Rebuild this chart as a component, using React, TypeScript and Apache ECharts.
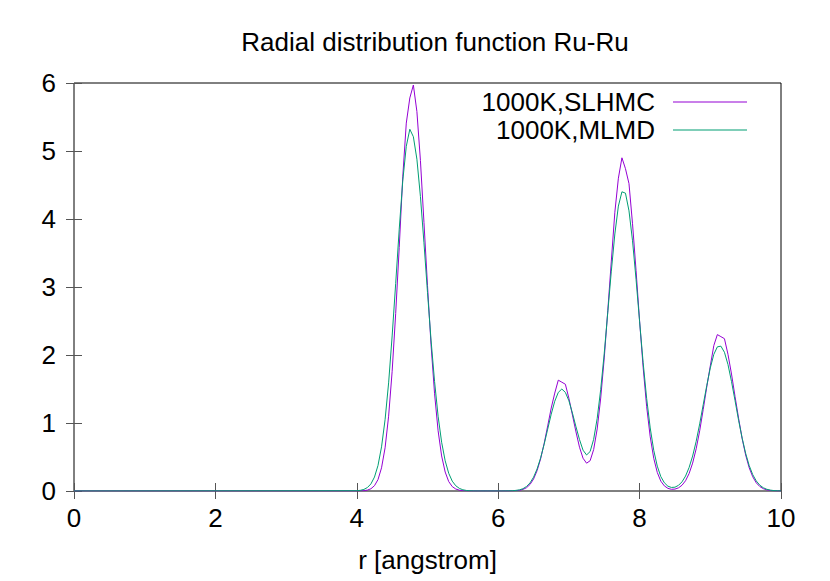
import React, { useEffect, useRef } from "react";
import * as echarts from "echarts";

const titleText = "Radial distribution function Ru-Ru";
const xAxisName = "r [angstrom]";
const seriesNames = ["1000K,SLHMC", "1000K,MLMD"];
const seriesColors = ["#9400d3", "#009e73"];

const rValues = [
  0,
  4.0, 4.05, 4.1, 4.15, 4.2, 4.25, 4.3, 4.35, 4.4, 4.45,
  4.5, 4.55, 4.6, 4.65, 4.7, 4.75, 4.8, 4.85, 4.9, 4.95,
  5.0, 5.05, 5.1, 5.15, 5.2, 5.25, 5.3, 5.35, 5.4, 5.45,
  5.5, 5.55, 5.6, 5.65, 5.7, 5.75, 5.8, 5.85, 5.9, 5.95,
  6.0, 6.05, 6.1, 6.15, 6.2, 6.25, 6.3, 6.35, 6.4, 6.45,
  6.5, 6.55, 6.6, 6.65, 6.7, 6.75, 6.8, 6.85, 6.9, 6.95,
  7.0, 7.05, 7.1, 7.15, 7.2, 7.25, 7.3, 7.35, 7.4, 7.45,
  7.5, 7.55, 7.6, 7.65, 7.7, 7.75, 7.8, 7.85, 7.9, 7.95,
  8.0, 8.05, 8.1, 8.15, 8.2, 8.25, 8.3, 8.35, 8.4, 8.45,
  8.5, 8.55, 8.6, 8.65, 8.7, 8.75, 8.8, 8.85, 8.9, 8.95,
  9.0, 9.05, 9.1, 9.15, 9.2, 9.25, 9.3, 9.35, 9.4, 9.45,
  9.5, 9.55, 9.6, 9.65, 9.7, 9.75, 9.8, 9.85, 9.9, 9.95,
  10.0,
];

const slhmc = [
  0,
  0, 0.002, 0.005, 0.013, 0.033, 0.078, 0.168, 0.341, 0.635, 1.1,
  1.76, 2.61, 3.58, 4.62, 5.41, 5.78, 5.97, 5.58, 4.86, 3.95,
  3.02, 2.15, 1.43, 0.886, 0.515, 0.279, 0.139, 0.065, 0.029, 0.012,
  0.005, 0.002, 0.001, 0, 0, 0, 0, 0, 0, 0,
  0, 0, 0, 0.001, 0.002, 0.005, 0.01, 0.023, 0.048, 0.096,
  0.176, 0.299, 0.473, 0.699, 0.957, 1.22, 1.44, 1.63, 1.6, 1.57,
  1.363, 1.117, 0.869, 0.644, 0.482, 0.409, 0.445, 0.609, 0.912, 1.367,
  1.957, 2.653, 3.381, 4.1, 4.6, 4.9, 4.74, 4.52, 3.93, 3.24,
  2.5, 1.82, 1.24, 0.797, 0.481, 0.273, 0.145, 0.075, 0.039, 0.025,
  0.028, 0.046, 0.085, 0.151, 0.256, 0.41, 0.62, 0.886, 1.2, 1.53,
  1.84, 2.14, 2.3, 2.27, 2.24, 2.01, 1.72, 1.39, 1.07, 0.773,
  0.529, 0.342, 0.209, 0.12, 0.066, 0.034, 0.016, 0.008, 0.003, 0.001,
  0,
];

const mlmd = [
  0,
  0.004, 0.01, 0.023, 0.051, 0.105, 0.205, 0.376, 0.649, 1.05, 1.59,
  2.28, 3.05, 3.85, 4.56, 5.07, 5.32, 5.21, 4.88, 4.33, 3.65,
  2.92, 2.22, 1.61, 1.1, 0.717, 0.444, 0.261, 0.145, 0.077, 0.039,
  0.018, 0.008, 0.003, 0.001, 0, 0, 0, 0, 0, 0,
  0, 0, 0.001, 0.002, 0.004, 0.009, 0.017, 0.034, 0.066, 0.119,
  0.203, 0.324, 0.487, 0.687, 0.91, 1.13, 1.32, 1.45, 1.5, 1.45,
  1.327, 1.146, 0.944, 0.756, 0.6, 0.53, 0.58, 0.76, 1.066, 1.494,
  2.027, 2.628, 3.233, 3.78, 4.19, 4.4, 4.38, 4.12, 3.68, 3.11,
  2.49, 1.89, 1.36, 0.927, 0.598, 0.366, 0.212, 0.121, 0.071, 0.052,
  0.056, 0.083, 0.135, 0.22, 0.345, 0.514, 0.73, 0.987, 1.27, 1.55,
  1.81, 2.01, 2.12, 2.13, 2.04, 1.86, 1.61, 1.33, 1.04, 0.779,
  0.554, 0.375, 0.241, 0.148, 0.086, 0.048, 0.025, 0.013, 0.006, 0.003,
  0.001,
];

const FONT = "'Liberation Sans', Arial, Helvetica, sans-serif";
const FS = 26;

export default function App() {
  const ref = useRef<HTMLDivElement>(null);

  useEffect(() => {
    if (!ref.current) return;
    const chart = echarts.init(ref.current, undefined, { renderer: "svg" });
    const tickStyle = { inside: true, length: 8, lineStyle: { color: "#555", width: 1 } };
    const legendBase = {
      orient: "vertical" as const,
      align: "right" as const,
      right: 83,
      padding: 0,
      icon: "rect",
      itemWidth: 74,
      itemHeight: 1,
      selectedMode: false,
      textStyle: { fontSize: FS, fontFamily: FONT, color: "#000", padding: [0, 13, 0, 0] },
    };
    chart.setOption({
      animation: false,
      backgroundColor: "#fff",
      title: {
        text: titleText,
        left: 430,
        top: 24,
        textAlign: "center",
        textStyle: { fontSize: FS, fontWeight: "normal", fontFamily: FONT, color: "#000" },
      },
      legend: [
        { ...legendBase, top: 89, data: [seriesNames[0]] },
        { ...legendBase, top: 117, data: [seriesNames[1]] },
      ],
      grid: {
        left: 74,
        right: 49,
        top: 83,
        bottom: 90,
        show: true,
        borderColor: "#000",
        borderWidth: 1,
        backgroundColor: "transparent",
      },
      xAxis: [
        {
          type: "value",
          min: 0,
          max: 10,
          interval: 2,
          position: "bottom",
          axisLine: { show: false },
          axisTick: tickStyle,
          splitLine: { show: false },
          axisLabel: { fontSize: FS, fontFamily: FONT, color: "#000", margin: 14 },
          name: xAxisName,
          nameLocation: "middle",
          nameGap: 56,
          nameTextStyle: { fontSize: FS, fontFamily: FONT, color: "#000" },
        },
        {
          type: "value",
          min: 0,
          max: 10,
          interval: 2,
          position: "top",
          axisLine: { show: false },
          axisTick: tickStyle,
          splitLine: { show: false },
          axisLabel: { show: false },
        },
      ],
      yAxis: [
        {
          type: "value",
          min: 0,
          max: 6,
          interval: 1,
          position: "left",
          axisLine: { show: false },
          axisTick: tickStyle,
          splitLine: { show: false },
          axisLabel: { fontSize: FS, fontFamily: FONT, color: "#000", margin: 18 },
        },
        {
          type: "value",
          min: 0,
          max: 6,
          interval: 1,
          position: "right",
          axisLine: { show: false },
          axisTick: tickStyle,
          splitLine: { show: false },
          axisLabel: { show: false },
        },
      ],
      series: [
        {
          name: seriesNames[0],
          type: "line",
          xAxisIndex: 0,
          yAxisIndex: 0,
          symbol: "none",
          color: seriesColors[0],
          lineStyle: { width: 1, color: seriesColors[0] },
          data: rValues.map((r, i) => [r, slhmc[i]]),
        },
        {
          name: seriesNames[1],
          type: "line",
          xAxisIndex: 0,
          yAxisIndex: 0,
          symbol: "none",
          color: seriesColors[1],
          lineStyle: { width: 1, color: seriesColors[1] },
          data: rValues.map((r, i) => [r, mlmd[i]]),
        },
      ],
    });
    return () => chart.dispose();
  }, []);

  return (
    <div
      ref={ref}
      style={{ position: "absolute", left: 0, top: 0, width: 830, height: 581 }}
    />
  );
}
